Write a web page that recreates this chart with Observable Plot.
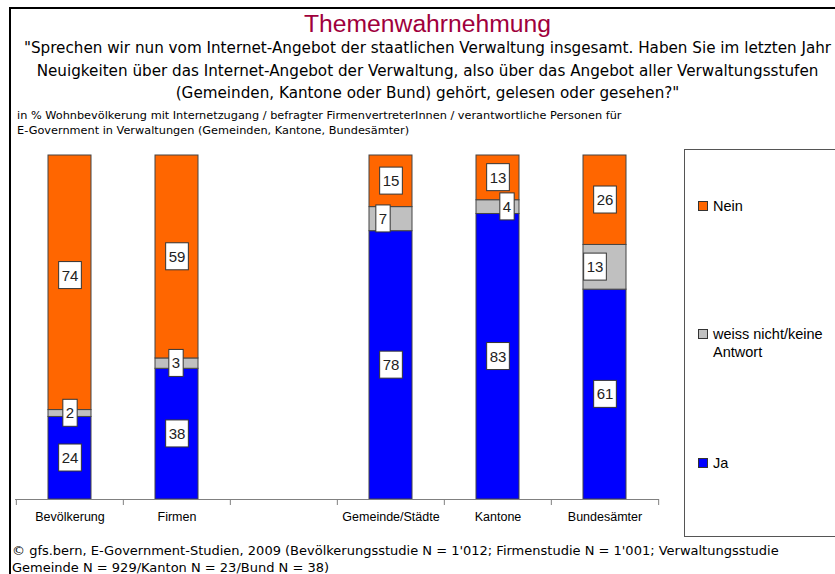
<!DOCTYPE html>
<html>
<head>
<meta charset="utf-8">
<script src="https://cdn.jsdelivr.net/npm/d3@7"></script>
<script src="https://cdn.jsdelivr.net/npm/@observablehq/plot@0.6"></script>
<style>
html, body { margin: 0; padding: 0; background: #fff; }
#wrap { position: relative; width: 835px; height: 574px; overflow: hidden; background: #fff;
  font-family: "Liberation Sans", Arial, sans-serif; color: #000; }
#wrap > div { position: absolute; white-space: nowrap; }
#title { left: 10px; width: 835px; top: 10px; text-align: center; font-size: 24.7px; line-height: 28px; color: #A0003C; }
#subtitle { left: 10px; width: 835px; top: 37px; text-align: center; font-family: "DejaVu Sans", sans-serif; font-size: 15.2px; line-height: 22.5px; }
#note { left: 17px; top: 109px; font-family: "DejaVu Sans", sans-serif; font-size: 11.3px; line-height: 14.5px; }
#footer { left: 12px; top: 542px; font-family: "DejaVu Sans", sans-serif; font-size: 13px; line-height: 17px; }
#chart { left: 0; top: 140px; }
#legendbox { left: 684px; top: 149px; width: 170px; height: 388px; border: 1px solid #555; box-sizing: border-box; }
.lg-sw { width: 10px; height: 10px; border: 1px solid #333; box-sizing: border-box; }
.lg-tx { font-size: 14.5px; line-height: 18px; white-space: normal !important; width: 118px; }
#bordertop { left: 9px; top: 7px; width: 830px; height: 2px; background: #000; }
#borderleft { left: 9px; top: 7px; width: 2px; height: 570px; background: #000; }
</style>
</head>
<body>
<div id="wrap">
  <div id="title">Themenwahrnehmung</div>
  <div id="subtitle">"Sprechen wir nun vom Internet-Angebot der staatlichen Verwaltung insgesamt. Haben Sie im letzten Jahr<br>Neuigkeiten über das Internet-Angebot der Verwaltung, also über das Angebot aller Verwaltungsstufen<br>(Gemeinden, Kantone oder Bund) gehört, gelesen oder gesehen?"</div>
  <div id="note">in % Wohnbevölkerung mit Internetzugang / befragter FirmenvertreterInnen / verantwortliche Personen für<br>E-Government in Verwaltungen (Gemeinden, Kantone, Bundesämter)</div>
  <div id="chart"></div>
  <div id="legendbox"></div>
  <div id="footer">© gfs.bern, E-Government-Studien, 2009 (Bevölkerungsstudie N = 1'012; Firmenstudie N = 1'001; Verwaltungsstudie<br>Gemeinde N = 929/Kanton N = 23/Bund N = 38)</div>
  <div id="bordertop"></div>
  <div id="borderleft"></div>
</div>
<script>
// ---- data ----
const categories = ["Bevölkerung", "Firmen", " ", "Gemeinde/Städte", "Kantone", "Bundesämter"];
const groups = ["Bevölkerung", "Firmen", "Gemeinde/Städte", "Kantone", "Bundesämter"];
const seriesNames = ["Ja", "weiss nicht/keine Antwort", "Nein"];
const ja = [24, 38, 78, 83, 61];
const weissNicht = [2, 3, 7, 4, 13];
const nein = [74, 59, 15, 13, 26];
const legendOrder = ["Nein", "weiss nicht/keine Antwort", "Ja"];

// ---- styles ----
const colors = {"Ja": "#0000FF", "weiss nicht/keine Antwort": "#C0C0C0", "Nein": "#FF6600"};
const labelNudge = {
  "weiss nicht/keine Antwort|Firmen": [-1, 0],
  "weiss nicht/keine Antwort|Gemeinde/Städte": [-8, 0],
  "weiss nicht/keine Antwort|Kantone": [9, 0],
  "weiss nicht/keine Antwort|Bundesämter": [-10, 0],
  "Nein|Bevölkerung": [0, -7]
};

const valuesBySeries = [ja, weissNicht, nein];
const segments = [];
groups.forEach((cat, j) => {
  seriesNames.forEach((s, k) => segments.push({cat, series: s, value: valuesBySeries[k][j]}));
});

const W = 670, H = 400, ML = 15, MR = 11, MT = 15, MB = 41;
const step = (W - ML - MR) / categories.length;

const chart = Plot.plot({
  width: W, height: H,
  marginTop: MT, marginBottom: MB, marginLeft: ML, marginRight: MR,
  style: {background: "transparent", fontFamily: "'Liberation Sans', Arial, sans-serif", fontSize: "12.5px", color: "#000", overflow: "visible"},
  x: {domain: categories, paddingInner: 0.6, paddingOuter: 0.3, label: null},
  y: {domain: [0, 100], axis: null},
  color: {domain: seriesNames, range: seriesNames.map(s => colors[s])},
  marks: [
    Plot.barY(segments, {x: "cat", y: "value", z: "series", fill: "series", stroke: "#444", strokeWidth: 1}),
    Plot.ruleY([0], {stroke: "#808080"}),
    Plot.ruleX(categories, {x: d => d, y1: 0, y2: 0, insetBottom: -6, dx: -step / 2, stroke: "#808080"}),
    Plot.ruleX(categories.slice(-1), {x: d => d, y1: 0, y2: 0, insetBottom: -6, dx: step / 2, stroke: "#808080"}),
    Plot.axisX({tickSize: 0, tickPadding: 13, fontSize: 12.5, fill: "#000"}),
    Plot.text(segments, Plot.stackY({x: "cat", y: "value", z: "series", text: d => String(d.value),
      fontSize: 15, fill: "#222", ariaDescription: "seglabels"}))
  ]
});
document.getElementById("chart").appendChild(chart);

// white label boxes behind segment values
const lg = chart.querySelector('g[aria-description="seglabels"]') || chart.querySelector('g[aria-label="text"]');
if (lg) {
  lg.querySelectorAll("text").forEach(t => {
    const d = segments[t.__data__];
    const n = d ? labelNudge[d.series + "|" + d.cat] : null;
    if (n) t.setAttribute("transform", (t.getAttribute("transform") || "") + ` translate(${n[0]},${n[1]})`);
    const b = t.getBBox();
    const w = b.width + 6, h = 27;
    const r = document.createElementNS("http://www.w3.org/2000/svg", "rect");
    r.setAttribute("x", b.x + b.width / 2 - w / 2);
    r.setAttribute("y", b.y + b.height / 2 - h / 2);
    r.setAttribute("width", w);
    r.setAttribute("height", h);
    r.setAttribute("fill", "#fff");
    r.setAttribute("stroke", "#333");
    r.setAttribute("stroke-width", 1);
    if (t.getAttribute("transform")) r.setAttribute("transform", t.getAttribute("transform"));
    lg.insertBefore(r, t);
  });
}

// legend
const wrap = document.getElementById("wrap");
const legendY = {"Nein": 206, "weiss nicht/keine Antwort": 334, "Ja": 463};
legendOrder.forEach(s => {
  const sw = document.createElement("div");
  sw.className = "lg-sw";
  sw.style.left = "698px";
  sw.style.top = (legendY[s] - 5) + "px";
  sw.style.background = colors[s];
  wrap.appendChild(sw);
  const tx = document.createElement("div");
  tx.className = "lg-tx";
  tx.style.left = "713px";
  tx.style.top = (legendY[s] - 9) + "px";
  tx.textContent = s;
  wrap.appendChild(tx);
});
</script>
</body>
</html>
